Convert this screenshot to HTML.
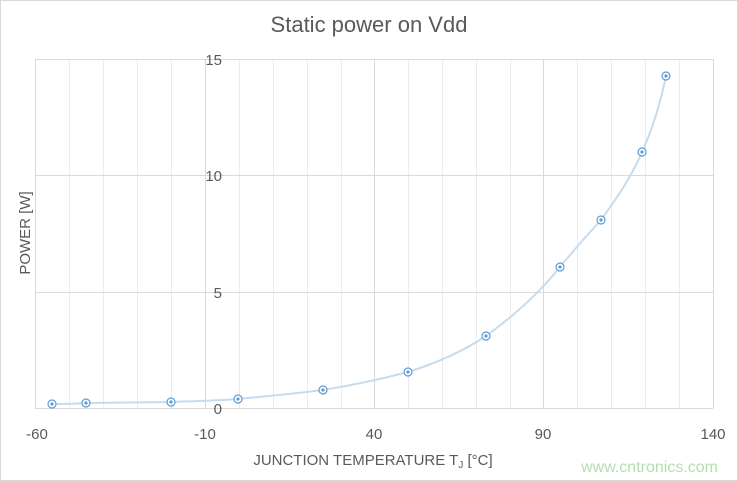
<!DOCTYPE html>
<html><head><style>body{margin:0;background:#fff}svg{display:block;font-family:"Liberation Sans",sans-serif}</style></head><body>
<svg width="738" height="481" viewBox="0 0 738 481" xmlns="http://www.w3.org/2000/svg">
<rect x="0.5" y="0.5" width="737" height="480" fill="#fff" stroke="#d9d9d9"/>
<text x="369" y="32" text-anchor="middle" font-size="22" fill="#595959">Static power on Vdd</text>
<g stroke="#ececec" stroke-width="1">
<line x1="69.5" y1="59" x2="69.5" y2="408"/><line x1="103.5" y1="59" x2="103.5" y2="408"/><line x1="137.5" y1="59" x2="137.5" y2="408"/><line x1="171.5" y1="59" x2="171.5" y2="408"/>
<line x1="239.5" y1="59" x2="239.5" y2="408"/><line x1="273.5" y1="59" x2="273.5" y2="408"/><line x1="307.5" y1="59" x2="307.5" y2="408"/><line x1="341.5" y1="59" x2="341.5" y2="408"/>
<line x1="408.5" y1="59" x2="408.5" y2="408"/><line x1="442.5" y1="59" x2="442.5" y2="408"/><line x1="476.5" y1="59" x2="476.5" y2="408"/><line x1="510.5" y1="59" x2="510.5" y2="408"/>
<line x1="577.5" y1="59" x2="577.5" y2="408"/><line x1="611.5" y1="59" x2="611.5" y2="408"/><line x1="645.5" y1="59" x2="645.5" y2="408"/><line x1="679.5" y1="59" x2="679.5" y2="408"/>
</g>
<g stroke="#d9d9d9" stroke-width="1">
<line x1="35.5" y1="59" x2="35.5" y2="408"/><line x1="205.5" y1="59" x2="205.5" y2="408"/><line x1="374.5" y1="59" x2="374.5" y2="408"/><line x1="543.5" y1="59" x2="543.5" y2="408"/><line x1="713.5" y1="59" x2="713.5" y2="408"/>
<line x1="35" y1="59.5" x2="713" y2="59.5"/><line x1="35" y1="175.5" x2="713" y2="175.5"/><line x1="35" y1="292.5" x2="713" y2="292.5"/><line x1="35" y1="408.5" x2="713" y2="408.5"/>
</g>
<g font-size="15" fill="#595959" text-anchor="end">
<text x="222" y="65">15</text><text x="222" y="181">10</text><text x="222" y="298">5</text><text x="222" y="414">0</text>
</g>
<g font-size="15" fill="#595959" text-anchor="middle">
<text x="37" y="439">-60</text><text x="205" y="439">-10</text><text x="374" y="439">40</text><text x="543" y="439">90</text><text x="713" y="439">140</text>
</g>
<text x="373" y="465" text-anchor="middle" font-size="15" fill="#595959">JUNCTION TEMPERATURE T<tspan font-size="10" dy="3">J</tspan><tspan dy="-3"> [°C]</tspan></text>
<text transform="translate(30,233) rotate(-90)" text-anchor="middle" font-size="15" fill="#595959">POWER [W]</text>
<path d="M52,404 C70,404 80,403.5 86,403 C120,402.5 150,402.3 171,402 C200,401 220,400.5 238,399 C270,396 300,393 323,390 C360,384 385,378 408,372 C440,362 465,350 486,336 C515,315 540,292 560,267 C578,245 590,232 601,220 C615,200 630,180 642,152 C652,130 660,105 666,76" fill="none" stroke="#c5dcf0" stroke-width="2"/>
<g fill="#fff" stroke="#5b9bd5" stroke-width="1.2">
<circle cx="52" cy="404" r="4"/><circle cx="86" cy="403" r="4"/><circle cx="171" cy="402" r="4"/><circle cx="238" cy="399" r="4"/><circle cx="323" cy="390" r="4"/><circle cx="408" cy="372" r="4"/><circle cx="486" cy="336" r="4"/><circle cx="560" cy="267" r="4"/><circle cx="601" cy="220" r="4"/><circle cx="642" cy="152" r="4"/><circle cx="666" cy="76" r="4"/>
</g>
<g fill="#5b9bd5">
<circle cx="52" cy="404" r="1.6"/><circle cx="86" cy="403" r="1.6"/><circle cx="171" cy="402" r="1.6"/><circle cx="238" cy="399" r="1.6"/><circle cx="323" cy="390" r="1.6"/><circle cx="408" cy="372" r="1.6"/><circle cx="486" cy="336" r="1.6"/><circle cx="560" cy="267" r="1.6"/><circle cx="601" cy="220" r="1.6"/><circle cx="642" cy="152" r="1.6"/><circle cx="666" cy="76" r="1.6"/>
</g>
<text x="718" y="472" text-anchor="end" font-size="16" fill="#b5ddb0">www.cntronics.com</text>
</svg>
</body></html>
